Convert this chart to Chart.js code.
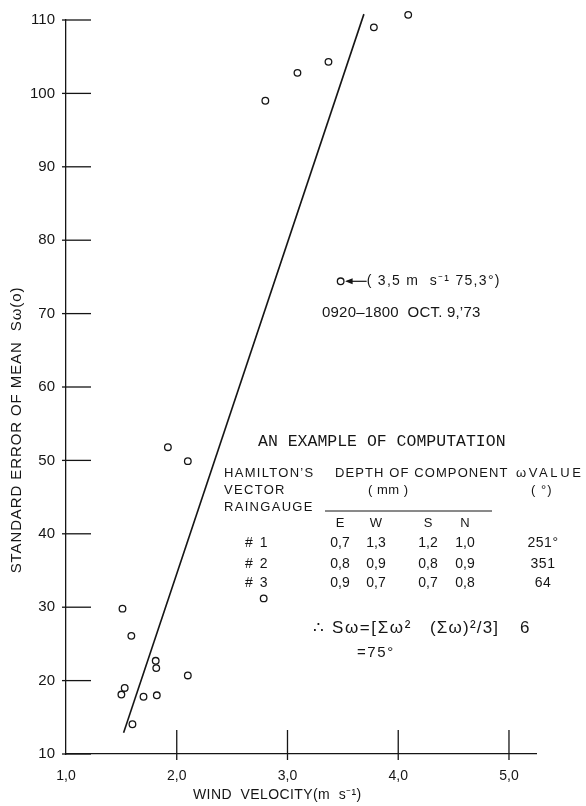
<!DOCTYPE html>
<html><head><meta charset="utf-8">
<script src="https://cdn.jsdelivr.net/npm/chart.js@4.4.0/dist/chart.umd.min.js"></script>
<style>html,body{margin:0;padding:0;background:#fff;} canvas{display:block;}</style>
</head><body>
<canvas id="c" width="586" height="806"></canvas>
<script>
// ---- data ----
const windVelocity = [2.80, 3.09, 3.37, 3.78, 4.09, 1.92, 2.10, 1.51, 1.59, 1.81, 1.815, 2.10, 1.53, 1.50, 1.70, 1.82, 1.60, 2.785];
const stdError     = [99.0, 102.8, 104.3, 109.0, 110.7, 51.8, 49.9, 29.8, 26.1, 22.7, 21.7, 20.7, 19.0, 18.1, 17.8, 18.0, 14.05, 31.2];
const highlightX = [3.48];
const highlightY = [74.4];
const fitLineX = [1.52, 3.69];
const fitLineY = [12.9, 110.8];
const xTickValues = [1, 2, 3, 4, 5];
const xTickLabels = ['1,0', '2,0', '3,0', '4,0', '5,0'];
const yTickValues = [10, 20, 30, 40, 50, 60, 70, 80, 90, 100, 110];
const yTickLabels = ['10', '20', '30', '40', '50', '60', '70', '80', '90', '100', '110'];
const tableColumns = ['E', 'W', 'S', 'N'];
const tableRowNames = ['# 1', '# 2', '# 3'];
const depthRow1 = ['0,7', '1,3', '1,2', '1,0'];
const depthRow2 = ['0,8', '0,9', '0,8', '0,9'];
const depthRow3 = ['0,9', '0,7', '0,7', '0,8'];
const omegaValues = ['251°', '351', '64'];

const INK = '#151515';
const SANS = '"Liberation Sans", Arial, sans-serif';

function txt(ctx, s, x, y, font, spacing, align) {
  ctx.save();
  ctx.font = font;
  ctx.fillStyle = INK;
  ctx.textBaseline = 'middle';
  ctx.textAlign = align || 'left';
  try { ctx.letterSpacing = (spacing || 0) + 'px'; } catch (e) {}
  ctx.fillText(s, x, y);
  ctx.restore();
}

const decorPlugin = {
  id: 'decor',
  afterDraw(chart) {
    const ctx = chart.ctx;
    const xs = chart.scales.x, ys = chart.scales.y;
    const a = chart.chartArea;
    ctx.save();
    ctx.strokeStyle = INK;
    ctx.lineWidth = 1.3;
    // y tick marks (inside, to the right of the axis)
    yTickValues.forEach(v => {
      const py = ys.getPixelForValue(v);
      ctx.beginPath(); ctx.moveTo(a.left - 4, py); ctx.lineTo(a.left + 25, py); ctx.stroke();
    });
    // x tick marks (upwards from the axis)
    xTickValues.slice(1).forEach(v => {
      const px = xs.getPixelForValue(v);
      ctx.beginPath(); ctx.moveTo(px, a.bottom - 24); ctx.lineTo(px, a.bottom + 6); ctx.stroke();
    });
    // arrow to highlighted point
    const hx = xs.getPixelForValue(highlightX[0]), hy = ys.getPixelForValue(highlightY[0]);
    ctx.lineWidth = 1.2;
    ctx.beginPath(); ctx.moveTo(hx + 6, hy); ctx.lineTo(hx + 26, hy); ctx.stroke();
    ctx.fillStyle = INK;
    ctx.beginPath(); ctx.moveTo(hx + 4.5, hy); ctx.lineTo(hx + 12, hy - 3); ctx.lineTo(hx + 12, hy + 3); ctx.closePath(); ctx.fill();
    // table rule
    ctx.lineWidth = 1;
    ctx.beginPath(); ctx.moveTo(325, 511); ctx.lineTo(492, 511); ctx.stroke();
    ctx.restore();

    txt(ctx, '( 3,5 m  s\u207B\u00B9 75,3°)', hx + 26, hy, '14px ' + SANS, 1.3);
    txt(ctx, '0920\u20131800  OCT. 9,\u201973', 322, 313, '15px ' + SANS, 0.2);
    txt(ctx, 'AN EXAMPLE OF COMPUTATION', 258, 442, '16.5px "Liberation Mono", monospace', 0);
    const hf = '13px ' + SANS;
    txt(ctx, 'HAMILTON\u2019S', 224, 473, hf, 1.3);
    txt(ctx, 'VECTOR', 224, 490, hf, 1.3);
    txt(ctx, 'RAINGAUGE', 224, 507, hf, 1.3);
    txt(ctx, 'DEPTH OF COMPONENT', 335, 473, hf, 1.1);
    txt(ctx, '( mm )', 368, 490, hf, 0.5);
    txt(ctx, '\u03C9VALUE', 516, 473, hf, 2.6);
    txt(ctx, '( °)', 531, 490, hf, 1.0);
    const colX = [340, 376, 428, 465];
    tableColumns.forEach((c, i) => txt(ctx, c, colX[i], 523, hf, 0, 'center'));
    const rowY = [543, 564, 583];
    const rows = [depthRow1, depthRow2, depthRow3];
    tableRowNames.forEach((r, j) => {
      txt(ctx, r, 245, rowY[j], '14px ' + SANS, 1.5);
      rows[j].forEach((v, i) => txt(ctx, v, colX[i], rowY[j], '14px ' + SANS, 0, 'center'));
      txt(ctx, omegaValues[j], 543, rowY[j], '14px ' + SANS, 0.5, 'center');
    });
    const ff = '17px ' + SANS;
    txt(ctx, '\u2234', 313, 628, ff, 0);
    txt(ctx, 'S\u03C9=[\u03A3\u03C9\u00B2', 332, 628, ff, 1.6);
    txt(ctx, '(\u03A3\u03C9)\u00B2/3]', 430, 628, ff, 1.2);
    txt(ctx, '6', 520, 628, ff, 0);
    txt(ctx, '=75°', 357, 653, '15px ' + SANS, 1.6);
    // axis titles
    txt(ctx, 'WIND  VELOCITY(m  s\u207B\u00B9)', 193, 795, '14px ' + SANS, 0.4);
    ctx.save();
    ctx.translate(17, 430);
    ctx.rotate(-Math.PI / 2);
    txt(ctx, 'STANDARD ERROR OF MEAN  S\u03C9(o)', 0, 0, '15px ' + SANS, 0.9, 'center');
    ctx.restore();
  }
};

const pointStyle = {
  pointRadius: 3.3, pointBorderWidth: 1.3, pointBorderColor: INK,
  pointBackgroundColor: 'rgba(0,0,0,0)', showLine: false, clip: false
};

new Chart(document.getElementById('c'), {
  type: 'scatter',
  data: {
    datasets: [
      Object.assign({ label: 'obs', data: windVelocity.map((x, i) => ({ x, y: stdError[i] })) }, pointStyle),
      Object.assign({ label: 'example', data: highlightX.map((x, i) => ({ x, y: highlightY[i] })) }, pointStyle),
      { label: 'fit', type: 'line', data: fitLineX.map((x, i) => ({ x, y: fitLineY[i] })),
        borderColor: INK, borderWidth: 1.6, pointRadius: 0, showLine: true, fill: false, clip: false }
    ]
  },
  options: {
    responsive: false, animation: false, events: [],
    layout: { padding: { top: 13, right: 50, left: 0, bottom: 0 } },
    plugins: { legend: { display: false }, tooltip: { enabled: false } },
    scales: {
      x: {
        type: 'linear', min: 1, max: 5.244,
        grid: { display: false, drawTicks: false },
        border: { display: true, color: INK, width: 1.3 },
        afterBuildTicks: s => { s.ticks = xTickValues.map(v => ({ value: v })); },
        afterFit: s => { s.height = 52; },
        ticks: { padding: 14, color: INK, font: { family: SANS, size: 14 },
          callback: (v) => xTickLabels[xTickValues.indexOf(v)] },
      },
      y: {
        type: 'linear', min: 10, max: 110,
        grid: { display: false, drawTicks: false },
        border: { display: true, color: INK, width: 1.3 },
        afterBuildTicks: s => { s.ticks = yTickValues.map(v => ({ value: v })); },
        afterFit: s => { s.width = 66; },
        ticks: { padding: 11, color: INK, font: { family: SANS, size: 15 },
          callback: (v) => yTickLabels[yTickValues.indexOf(v)] },
      }
    }
  },
  plugins: [decorPlugin]
});
</script>
</body></html>
